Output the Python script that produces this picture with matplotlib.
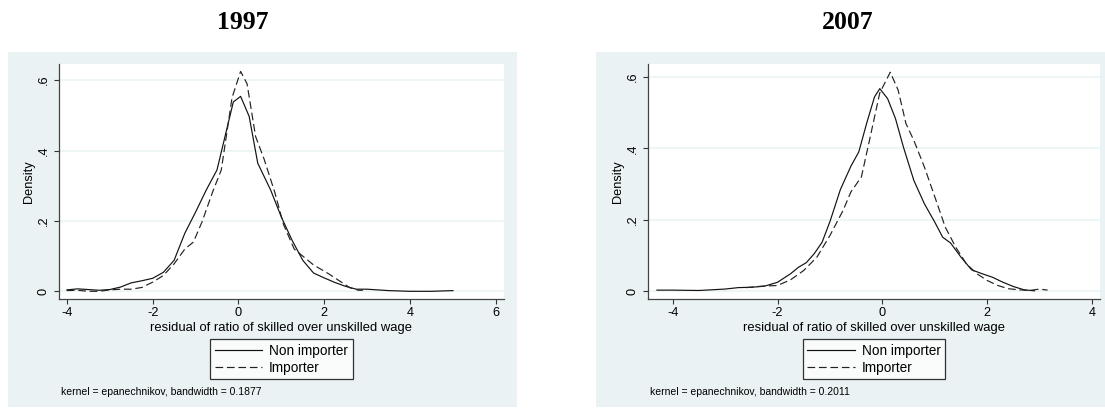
import matplotlib
matplotlib.use("Agg")
import matplotlib.pyplot as plt
from matplotlib.patches import Rectangle

plt.rcParams["font.family"] = ["Liberation Sans", "DejaVu Sans"]
plt.rcParams["axes.unicode_minus"] = False

# 1997 panel
x97_non = [-4.0, -3.75, -3.5, -3.25, -3.0, -2.75, -2.5, -2.25, -2.0, -1.75, -1.5,
           -1.25, -1.0, -0.75, -0.5, -0.12, 0.05, 0.25, 0.45, 0.75, 1.0, 1.25,
           1.5, 1.75, 2.0, 2.25, 2.5, 2.75, 3.0, 3.5, 4.0, 4.5, 5.0]
y97_non = [0.004, 0.007, 0.005, 0.003, 0.005, 0.012, 0.024, 0.030, 0.037, 0.054, 0.088,
           0.165, 0.225, 0.288, 0.345, 0.538, 0.554, 0.497, 0.364, 0.288, 0.211, 0.145,
           0.088, 0.052, 0.038, 0.025, 0.014, 0.006, 0.006, 0.002, 0.0, 0.0, 0.002]
x97_imp = [-4.0, -3.75, -3.5, -3.25, -3.0, -2.75, -2.5, -2.25, -2.0, -1.75, -1.5,
           -1.25, -1.05, -0.85, -0.6, -0.4, -0.15, 0.05, 0.2, 0.4, 0.6, 0.85,
           1.05, 1.3, 1.6, 1.75, 2.1, 2.35, 2.6, 2.8, 2.9]
y97_imp = [0.002, 0.003, 0.0, 0.0, 0.004, 0.006, 0.006, 0.011, 0.026, 0.045, 0.078,
           0.120, 0.140, 0.197, 0.283, 0.345, 0.550, 0.625, 0.590, 0.440, 0.375, 0.280,
           0.190, 0.120, 0.090, 0.075, 0.050, 0.030, 0.010, 0.003, 0.003]

# 2007 panel
x07_non = [-4.3, -4.0, -3.5, -3.0, -2.75, -2.5, -2.25, -2.0, -1.75, -1.6, -1.45,
           -1.3, -1.15, -1.0, -0.8, -0.6, -0.45, -0.3, -0.15, -0.05, 0.1, 0.25,
           0.4, 0.6, 0.8, 1.0, 1.15, 1.3, 1.5, 1.7, 1.9, 2.1, 2.3, 2.5, 2.7, 2.9]
y07_non = [0.003, 0.003, 0.002, 0.006, 0.010, 0.011, 0.014, 0.025, 0.049, 0.067, 0.080,
           0.105, 0.137, 0.195, 0.285, 0.350, 0.390, 0.470, 0.544, 0.567, 0.539, 0.483,
           0.404, 0.310, 0.245, 0.193, 0.151, 0.135, 0.095, 0.060, 0.049, 0.039, 0.025,
           0.013, 0.004, 0.001]
x07_imp = [-2.6, -2.3, -2.0, -1.75, -1.5, -1.25, -1.0, -0.75, -0.6, -0.4, -0.25,
           -0.05, 0.15, 0.3, 0.45, 0.6, 0.8, 1.0, 1.2, 1.4, 1.6, 1.8, 2.0, 2.2,
           2.4, 2.6, 2.8, 3.0, 3.15]
y07_imp = [0.010, 0.014, 0.016, 0.032, 0.058, 0.095, 0.156, 0.226, 0.278, 0.320, 0.420,
           0.555, 0.613, 0.563, 0.469, 0.422, 0.348, 0.264, 0.179, 0.123, 0.077, 0.049,
           0.030, 0.016, 0.007, 0.004, 0.002, 0.006, 0.003]

yticks = [0, 0.2, 0.4, 0.6]
ytick_labels = ["0", ".2", ".4", ".6"]
labels = ["Non importer", "Importer"]

BG = "#EAF2F3"
W, H = 1105, 408


def fx(px):
    return px / W


def fy(py):
    return 1 - py / H


def draw_panel(fig, rect, title, title_x, xs, ys, xticks, xlim, ylim, note, note_x):
    left, top, right, bottom = rect
    ax = fig.add_axes([fx(left), fy(bottom), fx(right - left), (bottom - top) / H])
    ax.set_facecolor("white")
    for y in yticks:
        ax.axhline(y, color=BG, lw=1.1, zorder=0)

    ax.plot(xs[0], ys[0], color="#111111", lw=0.85, label=labels[0])
    ax.plot(xs[1], ys[1], color="#222222", lw=0.85, dashes=(6.5, 3.2), label=labels[1])

    ax.set_xlim(*xlim)
    ax.set_ylim(*ylim)
    ax.set_xticks(xticks)
    ax.set_xticklabels([str(t) for t in xticks])
    ax.set_yticks(yticks)
    ax.set_yticklabels(ytick_labels, rotation=90, va="center")
    ax.tick_params(length=3.6, width=0.8, color="#333333", labelsize=9.2, pad=2.5)
    ax.tick_params(axis="y", pad=3)

    for s in ["top", "right"]:
        ax.spines[s].set_visible(False)
    for s in ["left", "bottom"]:
        ax.spines[s].set_color("#444444")
        ax.spines[s].set_linewidth(0.9)

    ax.set_xlabel("residual of ratio of skilled over unskilled wage", fontsize=9.4, labelpad=2)
    ax.set_ylabel("Density", fontsize=9.2, labelpad=2)

    leg = ax.legend(loc="upper center", bbox_to_anchor=(0.5, -0.172), ncol=1,
                    fontsize=9.8, frameon=True, fancybox=False, edgecolor="black",
                    handlelength=3.5, handletextpad=0.5, labelspacing=0.2,
                    borderpad=0.35, borderaxespad=0)
    leg.get_frame().set_linewidth(0.9)

    fig.text(fx(note_x), fy(392), note, fontsize=7.5, va="center", ha="left")
    fig.text(fx(title_x), fy(22.7), title, fontsize=18.5, fontweight="bold",
             family="Liberation Serif", ha="center", va="center")
    return ax


fig = plt.figure(figsize=(W / 100, H / 100), dpi=100)
fig.patches.append(Rectangle((fx(8), fy(407)), fx(509), 355 / H,
                             transform=fig.transFigure, facecolor=BG, edgecolor="none", zorder=-1))
fig.patches.append(Rectangle((fx(596), fy(407)), fx(509), 355 / H,
                             transform=fig.transFigure, facecolor=BG, edgecolor="none", zorder=-1))

draw_panel(fig, (58.7, 64, 504, 298.7), "1997", 242.5,
           (x97_non, x97_imp), (y97_non, y97_imp),
           [-4, -2, 0, 2, 4, 6], (-4.19, 6.19), (-0.021, 0.646),
           "kernel = epanechnikov, bandwidth = 0.1877", 61)
draw_panel(fig, (648, 64, 1100, 298.7), "2007", 848,
           (x07_non, x07_imp), (y07_non, y07_imp),
           [-4, -2, 0, 2, 4], (-4.47, 4.15), (-0.021, 0.636),
           "kernel = epanechnikov, bandwidth = 0.2011", 650)

fig.savefig("out.png", dpi=100)
